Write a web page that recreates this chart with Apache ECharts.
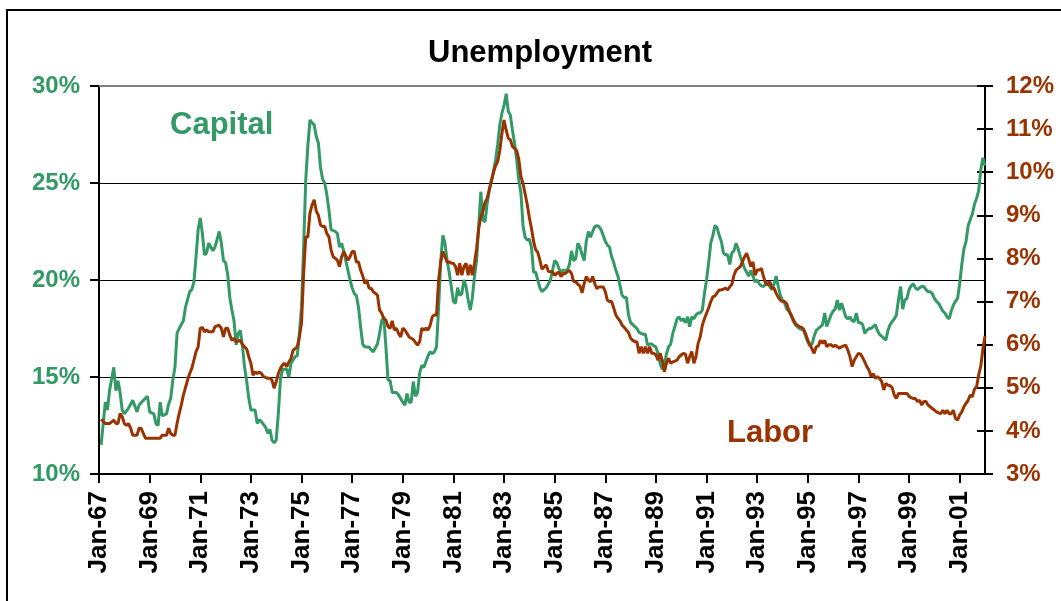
<!DOCTYPE html>
<html>
<head>
<meta charset="utf-8">
<script src="https://cdn.jsdelivr.net/npm/echarts@6/dist/echarts.min.js"></script>
<style>html,body{margin:0;padding:0;background:#fff}#c{width:1061px;height:601px}</style>
</head>
<body>
<div id="c"></div>
<script>
// month offsets from Jan-67 (0 = Jan-67, 420 = Jan-02)
const tickLabels = ['Jan-67','Jan-69','Jan-71','Jan-73','Jan-75','Jan-77','Jan-79','Jan-81','Jan-83','Jan-85','Jan-87','Jan-89','Jan-91','Jan-93','Jan-95','Jan-97','Jan-99','Jan-01'];
const tickMonths = [0,24,48,72,96,120,144,168,192,216,240,264,288,312,336,360,384,408];

// Capital unemployment (%), [month offset, value] — left axis
const capital = [[1,11.5],[3,13.7],[4,13.3],[5,14.3],[7,15.5],[8,14.3],[9,14.8],[10,14.2],[11,13.3],[12,13.1],[14,13.4],[15,13.6],[16,13.8],[18,13.2],[19,13.55],[21,13.8],[22,13.9],[23,14.0],[24,13.2],[26,13.1],[27,12.6],[28,12.5],[29,13.7],[30,13.0],[32,13.1],[33,13.6],[34,13.9],[35,14.85],[36,15.5],[37,17.25],[38,17.5],[40,17.9],[41,18.6],[43,19.4],[44,19.5],[45,19.9],[46,21.2],[47,22.6],[48,23.2],[49,22.4],[50,21.3],[51,21.4],[52,21.9],[53,21.7],[54,21.5],[55,21.7],[56,22.1],[57,22.5],[58,21.9],[59,21.0],[60,20.9],[61,20.3],[62,19.1],[63,18.45],[64,17.9],[65,16.65],[66,17.25],[67,17.4],[68,16.6],[69,15.5],[70,14.8],[71,13.9],[72,13.3],[74,13.3],[75,12.6],[76,12.8],[77,12.7],[79,12.4],[80,12.1],[81,12.3],[82,11.75],[83,11.6],[84,11.75],[85,13.1],[86,14.85],[87,15.4],[88,15.4],[89,15.4],[90,15.0],[91,15.7],[93,16.05],[94,16.1],[95,17.25],[96,18.6],[97,21.7],[98,25.15],[99,26.9],[100,28.25],[101,28.1],[102,28.0],[103,27.4],[104,27.05],[105,25.8],[106,25.2],[107,25.0],[108,24.4],[109,23.6],[110,22.6],[112,22.5],[113,22.4],[114,21.7],[115,21.9],[116,21.5],[117,21.0],[119,20.0],[120,19.6],[121,19.3],[122,19.2],[123,18.6],[124,17.6],[125,16.7],[126,16.55],[128,16.55],[129,16.4],[130,16.3],[132,16.7],[133,17.25],[134,17.9],[135,18.1],[136,16.55],[137,14.85],[138,14.8],[139,14.2],[141,14.2],[142,14.07],[144,13.7],[145,13.55],[146,14.15],[147,13.7],[148,13.7],[149,14.76],[150,14.0],[151,14.2],[152,15.2],[153,15.6],[154,15.5],[156,16.1],[157,16.3],[158,16.2],[159,16.3],[160,16.55],[161,18.6],[162,21.0],[163,22.3],[164,21.9],[165,21.0],[166,20.4],[167,19.66],[168,18.9],[169,18.8],[170,19.6],[171,19.2],[172,19.3],[173,20.0],[174,19.66],[175,18.97],[176,18.45],[177,19.1],[178,20.2],[179,21.0],[180,22.8],[181,24.55],[182,23.1],[183,23.0],[184,23.95],[185,24.6],[186,25.1],[187,25.6],[188,26.2],[189,27.0],[190,28.0],[191,28.6],[192,29.0],[193,29.6],[194,28.7],[195,28.5],[196,27.7],[197,27.05],[198,26.2],[199,25.15],[200,24.5],[201,22.8],[202,22.2],[203,22.06],[204,22.1],[205,21.7],[206,20.4],[207,20.4],[208,20.0],[209,19.6],[210,19.4],[211,19.5],[212,19.6],[213,19.8],[214,20.0],[215,20.5],[216,21.0],[217,20.9],[218,20.6],[219,20.4],[220,20.5],[221,20.5],[222,20.5],[223,20.8],[224,21.5],[225,21.0],[226,21.1],[227,21.9],[228,21.7],[229,21.3],[230,21.0],[231,22.0],[232,22.5],[233,22.2],[234,22.5],[235,22.75],[236,22.8],[237,22.75],[238,22.6],[239,22.3],[240,22.0],[241,21.8],[242,21.7],[243,21.2],[244,20.9],[245,20.5],[246,20.2],[247,19.7],[248,19.2],[249,19.1],[250,19.1],[251,18.2],[252,17.8],[253,17.7],[254,17.6],[255,17.5],[256,17.3],[257,17.25],[258,17.2],[259,17.2],[260,16.65],[261,16.7],[262,16.7],[263,16.6],[264,16.55],[265,16.2],[266,15.7],[267,15.4],[268,15.6],[269,16.2],[270,16.55],[271,16.7],[272,17.25],[273,17.6],[274,18.0],[275,18.1],[276,17.9],[277,18.0],[278,17.8],[279,18.1],[280,17.6],[281,18.1],[282,18.0],[283,18.2],[284,18.3],[285,18.3],[286,18.45],[287,19.3],[288,20.0],[289,20.9],[290,21.9],[291,22.3],[292,22.8],[293,22.7],[294,22.3],[295,22.0],[296,21.4],[297,21.3],[298,21.3],[299,20.8],[300,21.4],[301,21.5],[302,21.9],[303,21.6],[304,21.2],[305,20.9],[306,20.6],[307,20.4],[308,20.2],[309,20.5],[310,20.2],[311,19.9],[312,20.0],[313,19.8],[314,19.7],[315,19.66],[316,19.8],[317,19.9],[318,19.66],[319,19.5],[320,19.8],[321,20.2],[322,19.66],[323,19.2],[324,18.97],[325,18.8],[326,18.5],[327,18.4],[328,18.2],[329,17.9],[330,17.7],[331,17.6],[332,17.5],[333,17.45],[334,17.4],[335,17.1],[336,16.8],[337,16.6],[338,16.7],[339,17.1],[340,17.4],[341,17.5],[342,17.6],[343,17.7],[344,18.3],[345,17.6],[346,17.9],[347,18.2],[348,18.4],[349,18.5],[350,18.97],[351,18.45],[352,18.8],[353,18.45],[354,18.1],[355,18.0],[356,18.1],[357,17.9],[358,17.85],[359,18.3],[360,17.8],[361,17.8],[362,17.7],[363,17.25],[364,17.4],[365,17.5],[366,17.5],[367,17.6],[368,17.7],[369,17.4],[370,17.2],[371,17.1],[372,17.0],[373,16.9],[374,17.4],[375,17.7],[376,17.85],[377,18.0],[378,18.2],[379,19.0],[380,19.66],[381,18.5],[382,18.97],[383,19.05],[384,19.5],[385,19.7],[386,19.8],[387,19.6],[388,19.5],[389,19.6],[390,19.66],[391,19.66],[392,19.5],[393,19.4],[394,19.4],[395,19.3],[396,19.05],[397,18.9],[398,18.8],[399,18.6],[400,18.4],[401,18.3],[402,18.1],[403,18.0],[404,18.4],[405,18.7],[406,18.9],[407,19.05],[408,19.8],[409,20.8],[410,21.6],[411,21.98],[412,22.8],[413,23.1],[414,23.4],[415,23.9],[416,24.2],[417,24.6],[418,25.7],[419,26.3],[420,25.9]];

// Labor unemployment (%), [month offset, value] — right axis
const labor = [[1,4.27],[3,4.17],[5,4.17],[7,4.25],[8,4.17],[9,4.17],[10,4.4],[11,4.33],[12,4.17],[13,4.13],[14,4.17],[15,4.06],[16,3.9],[18,3.9],[19,4.06],[20,4.06],[21,3.94],[22,3.83],[25,3.83],[29,3.83],[30,3.9],[32,3.9],[33,4.06],[34,3.94],[35,3.9],[36,3.9],[37,4.17],[38,4.4],[39,4.6],[40,4.83],[42,5.18],[43,5.33],[44,5.45],[45,5.64],[46,5.84],[47,5.95],[48,6.38],[49,6.4],[50,6.3],[51,6.34],[52,6.3],[53,6.3],[54,6.3],[55,6.42],[57,6.45],[58,6.38],[59,6.18],[60,6.38],[61,6.38],[62,6.22],[63,6.1],[64,6.15],[65,6.07],[67,6.1],[68,6.0],[69,5.95],[70,5.9],[71,5.72],[72,5.57],[73,5.29],[74,5.37],[75,5.33],[76,5.37],[77,5.33],[78,5.26],[80,5.22],[81,5.22],[82,5.18],[83,4.99],[84,5.14],[85,5.33],[86,5.45],[87,5.53],[88,5.57],[89,5.49],[90,5.6],[91,5.68],[92,5.87],[93,5.91],[94,5.95],[95,6.18],[96,6.5],[97,7.65],[98,8.5],[99,8.5],[100,9.05],[101,9.24],[102,9.36],[103,9.1],[104,9.0],[105,8.78],[106,8.74],[107,8.74],[108,8.58],[109,8.5],[110,8.2],[111,8.04],[112,8.0],[113,7.96],[114,7.81],[115,8.04],[116,8.16],[117,8.06],[118,7.96],[119,8.04],[120,8.16],[121,8.16],[122,7.92],[123,7.92],[124,7.73],[125,7.6],[126,7.42],[127,7.5],[128,7.31],[129,7.31],[130,7.23],[131,7.19],[132,7.15],[133,6.8],[134,6.73],[135,6.61],[136,6.57],[137,6.42],[138,6.38],[139,6.55],[140,6.34],[141,6.38],[142,6.26],[143,6.18],[144,6.38],[145,6.34],[146,6.26],[147,6.18],[148,6.15],[149,6.12],[150,6.05],[151,5.99],[152,6.07],[153,6.38],[154,6.34],[155,6.38],[156,6.34],[157,6.45],[158,6.65],[159,6.69],[160,6.69],[161,7.5],[162,7.92],[163,8.16],[164,8.04],[165,7.92],[166,7.92],[167,7.89],[168,7.89],[169,7.81],[170,7.61],[171,7.89],[172,7.61],[173,7.81],[174,7.89],[175,7.61],[176,7.85],[177,7.61],[178,7.89],[179,8.23],[180,8.7],[181,8.95],[182,9.1],[183,9.3],[184,9.39],[185,9.6],[186,9.8],[187,10.0],[188,10.15],[189,10.25],[190,10.5],[191,10.9],[192,11.21],[193,10.98],[194,10.79],[195,10.75],[196,10.6],[197,10.55],[198,10.5],[199,10.3],[200,9.9],[201,9.74],[202,9.5],[203,9.25],[204,8.95],[205,8.7],[206,8.4],[207,8.2],[208,8.14],[209,7.96],[210,7.75],[211,7.8],[212,7.85],[213,7.7],[214,7.69],[215,7.69],[216,7.61],[217,7.65],[218,7.69],[219,7.58],[220,7.65],[221,7.65],[222,7.69],[223,7.72],[224,7.65],[225,7.46],[226,7.46],[227,7.4],[228,7.36],[229,7.2],[230,7.42],[231,7.58],[232,7.5],[233,7.46],[234,7.58],[235,7.42],[236,7.3],[237,7.34],[238,7.34],[239,7.34],[240,7.23],[241,7.03],[242,7.0],[243,7.0],[244,6.85],[245,6.69],[246,6.61],[247,6.55],[248,6.45],[249,6.4],[250,6.34],[251,6.28],[252,6.15],[253,6.1],[254,6.07],[255,6.07],[256,5.8],[257,5.95],[258,5.8],[259,5.95],[260,5.8],[261,5.95],[262,5.8],[263,5.8],[264,5.76],[265,5.64],[266,5.8],[267,5.64],[268,5.37],[269,5.57],[270,5.68],[271,5.57],[272,5.6],[273,5.62],[274,5.64],[275,5.72],[276,5.76],[277,5.8],[278,5.78],[279,5.57],[280,5.72],[281,5.84],[282,5.57],[283,5.72],[284,6.03],[285,6.18],[286,6.45],[287,6.6],[288,6.73],[289,6.85],[290,7.0],[291,7.11],[292,7.13],[293,7.2],[294,7.27],[295,7.27],[296,7.29],[297,7.31],[298,7.27],[299,7.34],[300,7.4],[301,7.61],[302,7.73],[303,7.77],[304,7.81],[305,7.92],[306,8.04],[307,8.12],[308,7.98],[309,7.81],[310,7.92],[311,7.61],[312,7.73],[313,7.73],[314,7.77],[315,7.58],[316,7.42],[317,7.38],[318,7.46],[319,7.31],[320,7.31],[321,7.19],[322,7.1],[323,7.03],[324,7.0],[325,7.0],[326,6.95],[327,6.8],[328,6.7],[329,6.6],[330,6.5],[331,6.45],[332,6.42],[333,6.4],[334,6.36],[335,6.25],[336,6.1],[337,6.0],[338,5.9],[339,5.8],[340,5.95],[341,5.97],[342,6.1],[343,6.03],[344,6.1],[345,5.95],[346,6.0],[347,6.0],[348,5.95],[349,5.99],[350,5.95],[351,5.92],[352,5.95],[353,5.97],[354,5.99],[355,5.87],[356,5.72],[357,5.49],[358,5.64],[359,5.72],[360,5.8],[361,5.78],[362,5.7],[363,5.6],[364,5.49],[365,5.41],[366,5.26],[367,5.33],[368,5.22],[369,5.26],[370,5.22],[371,5.15],[372,4.95],[373,5.1],[374,5.06],[375,5.05],[376,5.0],[377,4.83],[378,4.75],[379,4.87],[380,4.87],[382,4.87],[383,4.87],[384,4.8],[385,4.77],[386,4.75],[387,4.75],[388,4.68],[389,4.71],[390,4.6],[391,4.68],[392,4.68],[393,4.6],[394,4.56],[395,4.52],[396,4.48],[397,4.44],[398,4.42],[399,4.4],[400,4.48],[401,4.4],[402,4.48],[403,4.4],[404,4.4],[405,4.48],[406,4.29],[407,4.25],[408,4.37],[409,4.44],[410,4.56],[411,4.64],[412,4.71],[413,4.83],[414,4.79],[415,4.97],[416,5.02],[417,5.3],[418,5.5],[419,5.9],[420,6.2]];

const GREEN = '#339966', BROWN = '#993300';
const FONT = "'Liberation Sans', Arial, sans-serif";

const chart = echarts.init(document.getElementById('c'), null, {renderer: 'canvas'});
const gridBox = {left: 99, right: 76, top: 86, bottom: 127, containLabel: false};
chart.setOption({
  animation: false,
  backgroundColor: '#fff',
  grid: [Object.assign({}, gridBox), Object.assign({}, gridBox)],
  xAxis: [{
    gridIndex: 0, type: 'value', min: 0, max: 420, interval: 24, position: 'bottom',
    axisLine: {show: true, onZero: false, lineStyle: {color: '#000', width: 2}},
    axisTick: {show: true, length: 9, inside: false, customValues: tickMonths, lineStyle: {color: '#000', width: 2}},
    axisLabel: {show: true, rotate: 90, margin: 17, customValues: tickMonths,
      formatter: v => tickLabels[Math.round(v / 24)] || '',
      color: '#000', fontFamily: FONT, fontWeight: 'bold', fontSize: 26},
    splitLine: {show: false}
  }, {
    gridIndex: 0, type: 'value', min: 0, max: 420, position: 'top',
    axisLine: {show: true, onZero: false, lineStyle: {color: '#808080', width: 2}},
    axisTick: {show: false}, axisLabel: {show: false}, splitLine: {show: false}
  }, {
    gridIndex: 1, type: 'value', min: 0, max: 420, position: 'bottom',
    axisLine: {show: false, onZero: false}, axisTick: {show: false}, axisLabel: {show: false}, splitLine: {show: false}
  }],
  yAxis: [{
    gridIndex: 0, type: 'value', min: 10, max: 30, interval: 5, position: 'left',
    axisLine: {show: true, onZero: false, lineStyle: {color: '#000', width: 2}},
    axisTick: {show: true, length: 9, lineStyle: {color: '#000', width: 2}},
    axisLabel: {formatter: '{value}%', color: GREEN, fontFamily: FONT, fontWeight: 'bold', fontSize: 24, margin: 19},
    splitLine: {show: true, showMaxLine: false, showMinLine: false, lineStyle: {color: '#000', width: 1}}
  }, {
    gridIndex: 0, type: 'value', min: 3, max: 12, interval: 1, position: 'right',
    axisLine: {show: true, onZero: false, lineStyle: {color: '#000', width: 2}},
    axisTick: {show: true, length: 8, lineStyle: {color: '#000', width: 2}},
    axisLabel: {formatter: '{value}%', color: BROWN, fontFamily: FONT, fontWeight: 'bold', fontSize: 24, margin: 21},
    splitLine: {show: false}
  }, {
    gridIndex: 1, type: 'value', min: 3, max: 12, interval: 1, position: 'right',
    axisLine: {show: false, onZero: false},
    axisTick: {show: true, inside: true, length: 8, lineStyle: {color: '#000', width: 2}},
    axisLabel: {show: false}, splitLine: {show: false}
  }],
  series: [{
    name: 'Capital', type: 'line', xAxisIndex: 0, yAxisIndex: 0, data: capital,
    showSymbol: false, smooth: false, lineStyle: {color: GREEN, width: 3}, itemStyle: {color: GREEN}, z: 3
  }, {
    name: 'Labor', type: 'line', xAxisIndex: 0, yAxisIndex: 1, data: labor,
    showSymbol: false, smooth: false, lineStyle: {color: BROWN, width: 3}, itemStyle: {color: BROWN}, z: 4
  }],
  graphic: [
    {type: 'rect', shape: {x: 7, y: 10, width: 1200, height: 800}, style: {fill: 'none', stroke: '#000', lineWidth: 2}, silent: true},
    {type: 'text', x: 540, y: 53, style: {text: 'Unemployment', font: "bold 31px 'Liberation Sans', Arial, sans-serif", fill: '#000', textAlign: 'center', textVerticalAlign: 'middle'}},
    {type: 'text', x: 170, y: 125, style: {text: 'Capital', font: "bold 31px 'Liberation Sans', Arial, sans-serif", fill: GREEN, textAlign: 'left', textVerticalAlign: 'middle'}},
    {type: 'text', x: 727, y: 433, style: {text: 'Labor', font: "bold 31px 'Liberation Sans', Arial, sans-serif", fill: BROWN, textAlign: 'left', textVerticalAlign: 'middle'}}
  ]
});
</script>
</body>
</html>
